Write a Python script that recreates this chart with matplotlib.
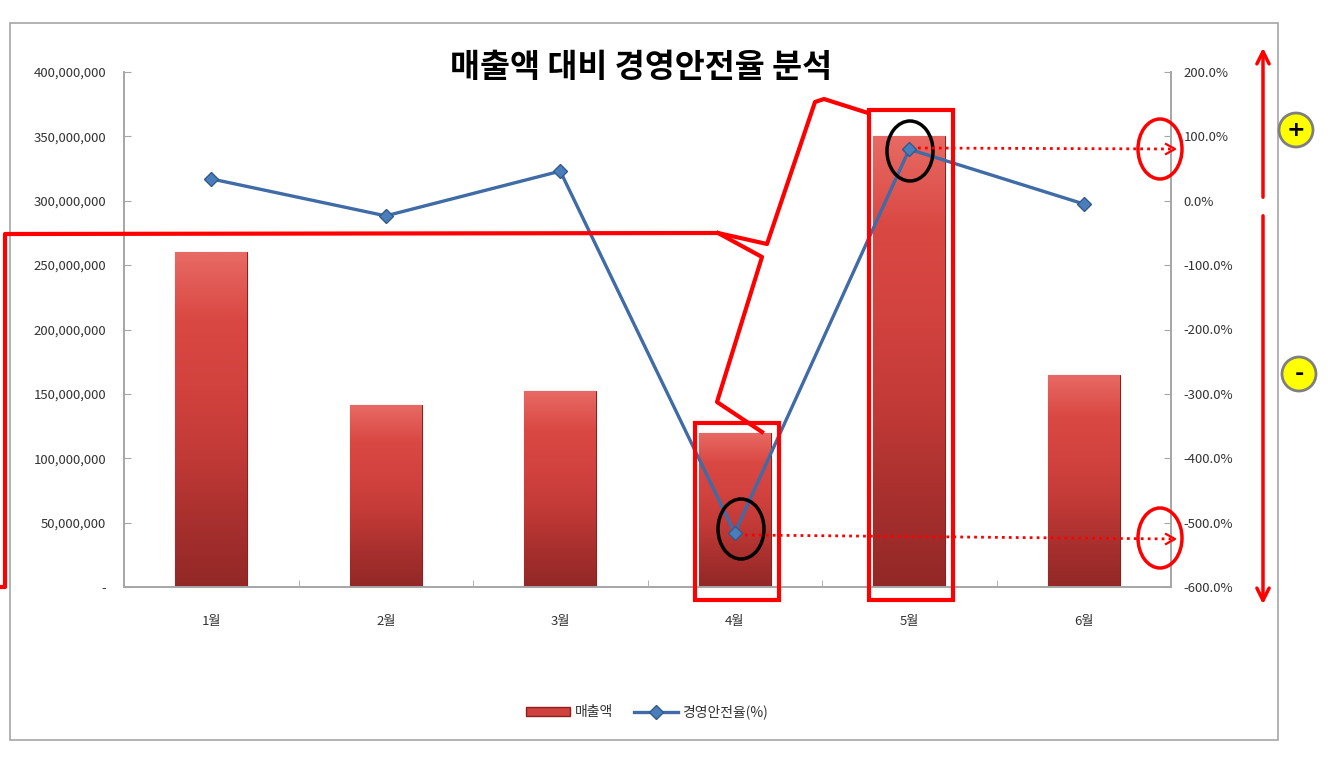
import matplotlib
matplotlib.use("Agg")
import matplotlib.pyplot as plt
import numpy as np
from matplotlib.patches import Rectangle, Ellipse, FancyArrowPatch, Patch
from matplotlib.lines import Line2D
from matplotlib.ticker import FuncFormatter, FixedLocator
from matplotlib.colors import LinearSegmentedColormap

plt.rcParams['font.family'] = ['Noto Sans CJK KR', 'DejaVu Sans']

# ---- data ----
months = ["1월", "2월", "3월", "4월", "5월", "6월"]
sales = [260_000_000, 141_000_000, 152_000_000, 120_000_000, 350_000_000, 165_000_000]
safety_rate = [34.0, -23.5, 46.0, -516.0, 80.0, -5.0]  # %
title = "매출액 대비 경영안전율 분석"
sales_label = "매출액"
rate_label = "경영안전율(%)"

W, H = 1328, 758
fig = plt.figure(figsize=(W / 100, H / 100), dpi=100)
fig.patch.set_facecolor("white")

def fx(x):
    return x / W

def fy(y):
    return 1 - y / H

def P(x, y):
    return (fx(x), fy(y))

# chart frame
fig.add_artist(Rectangle(P(10, 740), fx(1278) - fx(10), fy(23) - fy(740),
                         transform=fig.transFigure, fill=False,
                         edgecolor="#A6A6A6", lw=1.2, zorder=0))

ax = fig.add_axes([fx(124), fy(587), fx(1171) - fx(124), fy(72) - fy(587)])
ax2 = ax.twinx()

x = np.arange(len(months))
bars = ax.bar(x, sales, width=0.41, color="#C83A37", edgecolor="#8E1F1D",
              linewidth=0.8, zorder=2)
# gradient fill inside bars (lighter top -> darker bottom)
grad = np.linspace(0, 1, 256).reshape(-1, 1)
cmap = LinearSegmentedColormap.from_list(
    "barg", ["#E86A64", "#DA4843", "#D2423E", "#C23A37", "#A8302E", "#922826"])
for b in bars:
    x0, w, h = b.get_x(), b.get_width(), b.get_height()
    im = ax.imshow(grad, extent=(x0, x0 + w, 0, h), cmap=cmap, aspect="auto",
                   origin="upper", zorder=2.1)
    im.set_clip_path(b)
ax.set_xlim(-0.5, len(months) - 0.5)
ax.set_ylim(0, 400_000_000)
ax.set_yticks(np.arange(0, 400_000_001, 50_000_000))
ax.yaxis.set_major_formatter(FuncFormatter(lambda v, p: "-" if v == 0 else f"{int(v):,}"))
ax.set_xticks(x)
ax.set_xticklabels(months)
ax.xaxis.set_minor_locator(FixedLocator(np.arange(-0.5, len(months), 1.0)))

ax2.plot(x, safety_rate, color="#3F6BA6", lw=2.4, marker="D", markersize=7.5,
         markerfacecolor="#4A7EBB", markeredgecolor="#335A8C", zorder=3)
ax2.set_ylim(-600, 200)
ax2.set_yticks(np.arange(-600, 201, 100))
ax2.yaxis.set_major_formatter(FuncFormatter(lambda v, p: f"{v:.1f}%"))

for a in (ax, ax2):
    a.spines["top"].set_visible(False)
    for s in ("left", "right", "bottom"):
        a.spines[s].set_color("#A6A6A6")
        a.spines[s].set_linewidth(1.2)
    a.set_facecolor("none")
ax.tick_params(axis="y", direction="in", length=5, color="#A6A6A6",
               labelsize=9.5, labelcolor="#333333", pad=13)
ax.tick_params(axis="x", which="major", length=0, labelsize=9.5,
               labelcolor="#333333", pad=20)
ax.tick_params(axis="x", which="minor", direction="in", length=5, color="#A6A6A6")
ax2.tick_params(axis="y", direction="in", length=5, color="#A6A6A6",
                labelsize=9.5, labelcolor="#333333", pad=9)

fig.text(fx(641), fy(68), title, ha="center", va="center", fontsize=23.5,
         fontweight="bold", color="black")

# legend
handles = [Patch(facecolor="#D0403C", edgecolor="#8E1F1D", label=sales_label),
           Line2D([0], [0], color="#3F6BA6", lw=2.4, marker="D", markersize=7,
                  markerfacecolor="#4A7EBB", markeredgecolor="#335A8C", label=rate_label)]
fig.legend(handles=handles, loc="center", bbox_to_anchor=P(647, 712), ncol=2,
           frameon=False, fontsize=10, handlelength=3.2, handleheight=0.6,
           columnspacing=1.5, handletextpad=0.3, labelcolor="#333333")

RED = "#FF0000"
ZA = 10

def poly(pts, **kw):
    xs = [fx(p[0]) for p in pts]
    ys = [fy(p[1]) for p in pts]
    fig.add_artist(Line2D(xs, ys, transform=fig.transFigure, zorder=ZA, **kw))

# red bracket/callout line
poly([(0, 587), (5, 587), (5, 234), (718, 233), (767, 244), (815, 102),
      (824, 99), (868, 113)], color=RED, lw=3, solid_joinstyle="round")
poly([(718, 233), (762, 257), (717, 402), (762, 432)], color=RED, lw=3,
     solid_joinstyle="round")

# red boxes around 4월 and 5월
fig.add_artist(Rectangle(P(695, 600), fx(779) - fx(695), fy(423) - fy(600),
                         transform=fig.transFigure, fill=False, edgecolor=RED, lw=3, zorder=ZA))
fig.add_artist(Rectangle(P(869, 600), fx(953) - fx(869), fy(110) - fy(600),
                         transform=fig.transFigure, fill=False, edgecolor=RED, lw=3, zorder=ZA))

def ell(cx, cy, w, h, color, lw=2.5):
    fig.add_artist(Ellipse(P(cx, cy), w / W, h / H, transform=fig.transFigure,
                           fill=False, edgecolor=color, lw=lw, zorder=ZA))

ell(741, 529, 46, 60, "black")
ell(910, 151, 46, 60, "black")
ell(1160, 149, 44, 60, RED)
ell(1160, 538, 44, 60, RED)

# dotted arrows
def dotted_arrow(x0, y0, x1, y1):
    poly([(x0, y0), (x1, y1)], color=RED, lw=2, ls=(0, (1, 1.5)))
    poly([(x1 - 9, y1 - 5), (x1, y1), (x1 - 9, y1 + 5)], color=RED, lw=1.6)

dotted_arrow(918, 148, 1175, 149)
dotted_arrow(745, 535, 1175, 539)

# double-headed vertical arrows
fig.add_artist(FancyArrowPatch(P(1263, 200), P(1263, 45), transform=fig.transFigure,
                               arrowstyle="->", mutation_scale=22, color=RED, lw=2.5, zorder=ZA))
fig.add_artist(FancyArrowPatch(P(1263, 213), P(1263, 607), transform=fig.transFigure,
                               arrowstyle="->", mutation_scale=22, color=RED, lw=2.5, zorder=ZA))

# yellow sign circles
for (cx, cy, s) in [(1296, 130, "+"), (1299, 374, "-")]:
    fig.add_artist(Ellipse(P(cx, cy), 34 / W, 34 / H, transform=fig.transFigure,
                           facecolor="#FFFF00", edgecolor="#7F7F7F", lw=2, zorder=ZA))
    fig.text(fx(cx), fy(cy), s, ha="center", va="center", fontsize=16,
             fontweight="bold", color="black", zorder=ZA + 1, family="DejaVu Sans")

fig.savefig("out.png", dpi=100, facecolor="white")
